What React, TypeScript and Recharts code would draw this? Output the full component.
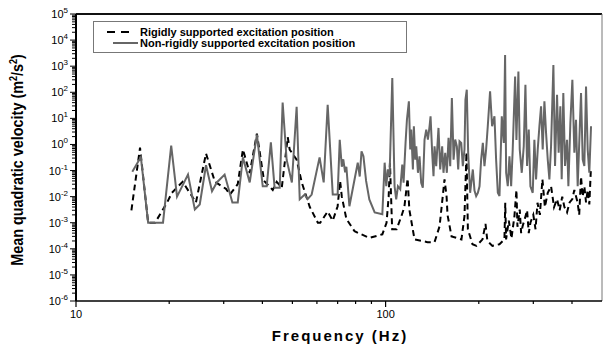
import { LineChart, Line, XAxis, YAxis, Legend, ReferenceLine, Customized } from "recharts";

document.body.style.margin = "0";

// Non-rigidly supported excitation position (grey solid)
const flexFreq = [
  15.2, 16.2, 17.1, 19.1, 20.3, 21.2, 23.0, 24.2, 25.1, 26.3, 27.5, 28.5, 30.2, 32.0, 33.3, 34.6, 36.4, 38.4,
  40.1, 41.3, 42.6, 43.8, 45.5, 46.5, 47.9, 49.8, 51.6, 52.8, 54.8, 56.0, 57.7, 61.2, 63.1, 65.0, 67.5, 70.0,
  71.1, 72.2, 73.0, 74.0, 74.7, 76.4, 81.3, 82.5, 83.6, 84.8, 86.5, 88.6, 92.2, 97.6,
  99.3, 100.5, 101.7, 103.0, 105.1, 106.9, 108.2, 109.6, 111.5, 113.2, 114.3, 116.0, 117.2, 118.9, 120.1, 121.0,
  122.5, 123.4, 124.7, 125.6, 127.2, 128.7, 130.3, 131.9, 133.6, 135.3, 137.0, 138.7, 139.7, 141.4, 142.8, 143.9,
  145.7, 148.2, 150.1, 152.3, 153.8, 155.8, 157.7, 159.7, 161.7, 163.7, 165.8, 167.8, 169.9, 171.6, 173.3, 175.5,
  177.6, 179.8, 181.1, 182.9, 184.8, 187.5, 191.3, 193.7, 196.1, 198.6, 201.1, 203.5, 206.1, 208.6, 211.2, 213.8,
  217.5, 220.8, 224.7, 227.5, 230.4, 233.3, 237.3, 240.9, 243.2, 245.1, 248.1, 251.2, 254.4, 257.4, 262.0,
  264.6, 268.5, 271.2, 275.3, 279.4, 282.9, 286.4, 290.0, 293.6, 298.7, 302.4, 306.2, 310.0, 313.9, 317.8, 321.7,
  325.8, 329.8, 334.0, 338.1, 342.3, 348.3, 352.6, 357.9, 362.2, 366.8, 370.5, 375.0, 379.8, 385.5, 389.4, 395.2,
  401.1, 407.1, 412.1, 417.3, 422.5, 427.8, 433.1, 438.5, 444.0, 449.5, 455.0, 460.8,
];
const flexVel = [
  0.09, 0.33, 0.001, 0.001, 0.9, 0.01, 0.07, 0.0032, 0.005, 0.16, 0.016, 0.035, 0.07, 0.006, 0.006, 0.32, 0.035, 2.4,
  0.025, 0.025, 1.2, 0.022, 0.022, 40, 0.26, 0.035, 28, 0.008, 0.012, 0.008, 0.012, 0.32, 0.035, 33, 0.012, 0.012,
  1.5, 0.14, 0.27, 0.085, 0.14, 0.0043, 0.2, 0.059, 0.54, 0.35, 0.04, 0.0078, 0.0025, 0.0021,
  0.2, 0.025, 0.11, 0.061, 349, 0.025, 0.0079, 0.025, 0.019, 0.17, 0.034, 1.15, 8.9, 45, 0.64, 3.7,
  0.11, 5, 0.26, 0.85, 0.082, 0.35, 0.034, 0.022, 1.54, 3.7, 1.54, 5, 12, 0.48, 0.061, 0.85,
  0.147, 4.3, 0.11, 0.85, 0.082, 0.48, 0.082, 1.8, 0.147, 60, 0.26, 1.54, 0.85, 0.11, 1.33, 1.15,
  0.147, 0.64, 52, 125, 0.48, 0.014, 0.11, 0.017, 0.0105, 0.014, 0.025, 0.26, 1.15, 0.147, 0.64, 5,
  108, 5, 12, 0.26, 0.014, 0.0105, 12, 1.15, 2700, 0.082, 0.025, 0.35, 0.025, 0.64, 400,
  1.5, 630, 0.64, 0.082, 0.85, 195, 0.15, 3.7, 0.025, 0.014, 1.5, 0.046, 0.64, 5, 29, 0.64,
  45, 2.8, 0.26, 0.046, 0.85, 1100, 0.15, 80, 0.48, 29, 0.046, 93, 0.15, 1.5, 0.025, 6.7,
  300, 0.48, 8.9, 0.025, 1.5, 93, 0.26, 0.15, 167, 0.64, 0.082, 5,
];

// Rigidly supported excitation position (black dashed)
const rigidFreq = [
  15.1, 16.1, 17.1, 18.0, 19.7, 20.4, 22.1, 23.5, 24.4, 26.3, 28.1, 30.5, 31.4, 33.3, 34.6, 36.4, 38.4, 40.5,
  43.2, 44.5, 46.2, 48.3, 49.0, 51.6, 53.6, 56.9, 60.4, 61.5, 65.0, 67.5, 70.0, 71.3, 72.2, 74.7, 79.4, 88.6,
  97.6, 100.7, 102.3, 103.3, 105.0, 108.5, 112.5, 115.0, 117.8, 119.3, 124.0, 136.6, 143.9, 149.4, 155.0, 157.4,
  158.5, 163.3, 175.8, 179.8, 182.5, 184.4, 190.8, 196.6, 205.6, 210.2, 213.2, 221.3, 233.2, 242.0, 243.5, 245.0,
  250.0, 255.0, 260.7, 264.6, 266.6, 271.2, 274.0, 277.0, 282.0, 286.4, 290.0, 293.6, 300.0, 305.0, 309.5, 315.0,
  321.0, 327.0, 334.0, 342.3, 350.0, 357.9, 365.0, 372.0, 378.0, 385.5, 393.0, 401.0, 407.0, 417.0, 422.0, 427.8,
  433.0, 438.5, 444.0, 449.5, 455.0, 460.0,
];
const rigidVel = [
  0.003, 0.75, 0.001, 0.001, 0.006, 0.014, 0.037, 0.012, 0.006, 0.45, 0.037, 0.02, 0.012, 0.03, 0.64, 0.08, 2.6, 0.04,
  0.018, 0.037, 0.022, 1.9, 0.64, 0.26, 0.035, 0.004, 0.001, 0.001, 0.0027, 0.0012, 0.0043, 0.04, 0.01, 0.0014, 0.00047, 0.00026,
  0.00036, 0.001, 0.01, 0.2, 0.00056, 0.00056, 0.0018, 0.004, 0.05, 0.0032, 0.00023, 0.00018, 0.00018, 0.00073, 0.046, 0.01,
  0.002, 0.0003, 0.00023, 0.0018, 0.5, 0.00056, 0.00015, 0.00013, 0.00023, 0.0009, 0.0002, 0.00013, 0.00015, 0.00023, 0.0058, 0.00023,
  0.0012, 0.00025, 0.0018, 0.018, 0.0007, 0.0032, 0.0004, 0.00073, 0.0015, 0.003, 0.0004, 0.001, 0.002, 0.00056, 0.0058, 0.002,
  0.046, 0.004, 0.014, 0.025, 0.004, 0.008, 0.003, 0.01, 0.004, 0.0025, 0.006, 0.008, 0.018, 0.006, 0.002, 0.059,
  0.01, 0.025, 0.006, 0.018, 0.005, 0.095,
];

const xTicks = [10, 20, 30, 40, 50, 60, 70, 80, 90, 100, 200, 300, 400];
const xLabels = [10, 100];
const yExponents = [-6, -5, -4, -3, -2, -1, 0, 1, 2, 3, 4, 5];
const yTicks = yExponents.flatMap((e) =>
  e === 5 ? [1e5] : [1, 2, 3, 4, 5, 6, 7, 8, 9].map((k) => k * Math.pow(10, e))
);

const flexData = flexFreq.map((f, i) => ({ f, v: flexVel[i] }));
const rigidData = rigidFreq.map((f, i) => ({ f, v: rigidVel[i] }));

const FONT = "'Liberation Sans', Arial, sans-serif";

function XTick({ x, y, payload }: any) {
  const major = xLabels.includes(payload.value);
  return (
    <g>
      <line x1={x} x2={x} y1={y} y2={y + (major ? 6 : 3)} stroke="#000" strokeWidth={1.2} />
      {major && (
        <text x={x} y={y + 17} textAnchor="middle" fontSize={11} fontFamily={FONT} fill="#000">
          {payload.value}
        </text>
      )}
    </g>
  );
}

function YTick({ x, y, payload }: any) {
  const v = payload.value;
  const e = Math.round(Math.log10(v));
  const major = Math.abs(v / Math.pow(10, e) - 1) < 1e-6;
  return (
    <g>
      <line x1={x - (major ? 6 : 4)} x2={x} y1={y} y2={y} stroke="#000" strokeWidth={1} />
      {major && (
        <text x={x - 8} y={y + 4} textAnchor="end" fontSize={11} fontFamily={FONT} fill="#000">
          10
          <tspan dy={-5} fontSize={8}>
            {e}
          </tspan>
        </text>
      )}
    </g>
  );
}

function LegendBox() {
  return (
    <svg width={314} height={32} style={{ display: "block" }}>
      <rect x={0.5} y={0.5} width={313} height={31} fill="#fff" stroke="#777" />
      <line x1={14} x2={40} y1={11} y2={11} stroke="#000" strokeWidth={2} strokeDasharray="8 6" />
      <line x1={20} x2={45} y1={22} y2={22} stroke="#666" strokeWidth={2} />
      <text x={47} y={15} fontSize={11} fontWeight="bold" fontFamily={FONT} fill="#000">
        Rigidly supported excitation position
      </text>
      <text x={47} y={26} fontSize={11} fontWeight="bold" fontFamily={FONT} fill="#000">
        Non-rigidly supported excitation position
      </text>
    </svg>
  );
}

function Titles() {
  return (
    <g>
      <text
        transform="translate(23,160) rotate(-90) scale(0.9,1)"
        textAnchor="middle"
        fontSize={16}
        fontWeight="bold"
        fontFamily="'Liberation Sans Narrow', 'Liberation Sans', Arial, sans-serif"
        fill="#000"
      >
        Mean quadratic velocity (m
        <tspan dy={-6} fontSize={10}>2</tspan>
        <tspan dy={6}>/s</tspan>
        <tspan dy={-6} fontSize={10}>2</tspan>
        <tspan dy={6}>)</tspan>
      </text>
      <text x={340} y={341} textAnchor="middle" fontSize={15} fontWeight="bold" letterSpacing={2} fontFamily={FONT} fill="#000">
        Frequency (Hz)
      </text>
    </g>
  );
}

export default function App() {
  return (
    <div style={{ width: 606, height: 349, background: "#fff", fontFamily: FONT }}>
      <LineChart width={606} height={349} margin={{ top: 14, right: 4, bottom: 0, left: 0 }}>
        <XAxis
          dataKey="f"
          type="number"
          scale="log"
          domain={[10, 500]}
          ticks={xTicks}
          interval={0}
          tick={<XTick />}
          tickLine={false}
          tickSize={0}
          tickMargin={0}
          height={48}
          axisLine={{ stroke: "#000", strokeWidth: 1.5 }}
          allowDataOverflow
        />
        <YAxis
          dataKey="v"
          type="number"
          scale="log"
          domain={[1e-6, 1e5]}
          ticks={yTicks}
          interval={0}
          tick={<YTick />}
          tickLine={false}
          tickSize={0}
          tickMargin={0}
          width={76}
          axisLine={{ stroke: "#000", strokeWidth: 2 }}
          allowDataOverflow
        />
        <ReferenceLine y={1e5} stroke="#111" strokeWidth={2} />
        <ReferenceLine x={500} stroke="#777" strokeWidth={1} />
        <Line
          data={rigidData}
          dataKey="v"
          name="Rigidly supported excitation position"
          type="linear"
          stroke="#000"
          strokeWidth={2}
          strokeDasharray="6 4"
          dot={false}
          isAnimationActive={false}
        />
        <Line
          data={flexData}
          dataKey="v"
          name="Non-rigidly supported excitation position"
          type="linear"
          stroke="#666"
          strokeWidth={2}
          dot={false}
          isAnimationActive={false}
        />
        <Legend
          layout="vertical"
          align="center"
          verticalAlign="middle"
          wrapperStyle={{ left: 93, top: 21, width: 314, height: 32 }}
          content={<LegendBox />}
        />
        <Customized component={<Titles />} />
      </LineChart>
    </div>
  );
}
